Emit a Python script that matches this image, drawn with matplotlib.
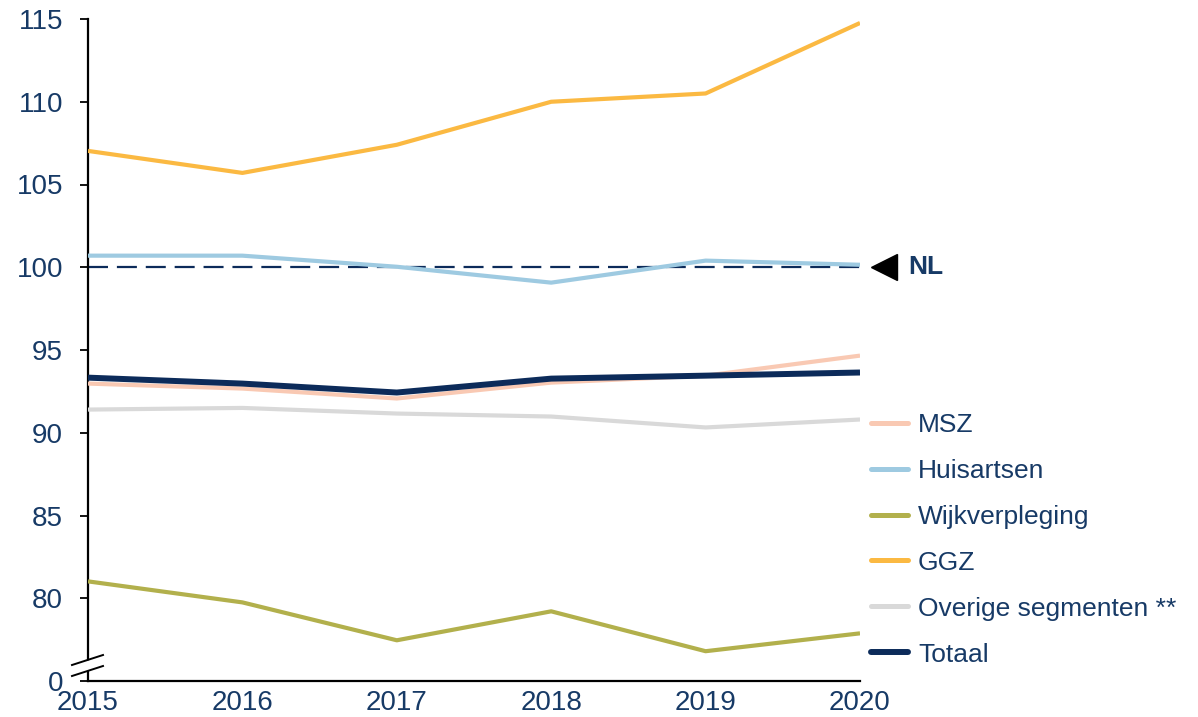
import matplotlib
matplotlib.use("Agg")
import matplotlib.pyplot as plt
from matplotlib.lines import Line2D
from matplotlib.patches import Polygon

years = [2015, 2016, 2017, 2018, 2019, 2020]
msz = [92.97, 92.67, 92.07, 93.03, 93.45, 94.66]
huisartsen = [100.7, 100.7, 100.03, 99.07, 100.4, 100.15]
wijkverpleging = [81.02, 79.75, 77.46, 79.21, 76.8, 77.88]
ggz = [107.03, 105.7, 107.4, 110.0, 110.5, 114.76]
overige = [91.4, 91.5, 91.16, 90.98, 90.32, 90.8]
totaal = [93.33, 92.97, 92.43, 93.27, 93.45, 93.64]
nl_level = 100
ytick_values = [75, 80, 85, 90, 95, 100, 105, 110, 115]
ytick_labels = ["0", "80", "85", "90", "95", "100", "105", "110", "115"]

series = [
    ("MSZ", msz, "#f9c9b3", 3.0),
    ("Huisartsen", huisartsen, "#9ecae1", 3.0),
    ("Wijkverpleging", wijkverpleging, "#b2b04c", 3.0),
    ("GGZ", ggz, "#fbb942", 3.0),
    ("Overige segmenten **", overige, "#d9d9d9", 3.0),
    ("Totaal", totaal, "#0c2b5a", 4.3),
]

TEXT = "#173a66"
plt.rcParams['font.family'] = ['Liberation Sans', 'DejaVu Sans']

W, H = 1198, 717
fig = plt.figure(figsize=(W / 100, H / 100), dpi=100)
left, right, top, bottom = 88, 860, 19, 681
ax = fig.add_axes([left / W, 1 - bottom / H, (right - left) / W, (bottom - top) / H])

ax.plot([years[0], years[-1]], [nl_level, nl_level], color="#0c2b5a", lw=1.6,
        dashes=(9, 4), zorder=2)

handles = []
for name, vals, col, lw in series:
    z = 4 if name == "Totaal" else 3
    ax.plot(years, vals, color=col, lw=lw, zorder=z, solid_capstyle="butt")
    handles.append(Line2D([], [], color=col, lw=lw + 0.6 if name != "Totaal" else lw,
                          solid_capstyle="round"))

ax.set_xlim(2015, 2020)
ax.set_ylim(75, 115)
ax.set_xticks(years)
ax.set_xticklabels([str(y) for y in years])
ax.set_yticks(ytick_values)
ax.set_yticklabels(ytick_labels)
ax.tick_params(axis="y", direction="out", length=6, width=1.3, colors="black",
               labelcolor=TEXT, labelsize=20, pad=12)
ax.tick_params(axis="x", length=0, labelcolor=TEXT, labelsize=20, pad=6.5)
for s in ["top", "right"]:
    ax.spines[s].set_visible(False)
for s in ["left", "bottom"]:
    ax.spines[s].set_linewidth(1.6)
    ax.spines[s].set_color("black")

# axis break marks
def px(x, y):
    return (x / W, 1 - y / H)
poly = Polygon([px(80, 663), px(96, 658), px(96, 668), px(80, 673)], closed=True,
               transform=fig.transFigure, facecolor="white", edgecolor="none", zorder=10)
fig.add_artist(poly)
for (x0, y0, x1, y1) in [(72, 665, 103, 655), (72, 676, 103, 666)]:
    fig.add_artist(Line2D([x0 / W, x1 / W], [1 - y0 / H, 1 - y1 / H],
                          transform=fig.transFigure, color="black", lw=1.4, zorder=11))

# NL marker
ax.plot([2020.155], [nl_level], marker="<", markersize=19, color="black",
        clip_on=False, zorder=5)
ax.text(2020.31, nl_level, "NL", fontsize=19, fontweight="bold", color=TEXT,
        va="center", ha="left", clip_on=False)

leg = fig.legend(handles, [s[0] for s in series], loc="upper left",
                 bbox_to_anchor=(871 / W, 1 - 413 / H), frameon=False,
                 fontsize=19, labelcolor=TEXT, handlelength=1.4,
                 handletextpad=0.38, labelspacing=0.83, borderaxespad=0,
                 borderpad=0)

fig.savefig("out.png", dpi=100)
